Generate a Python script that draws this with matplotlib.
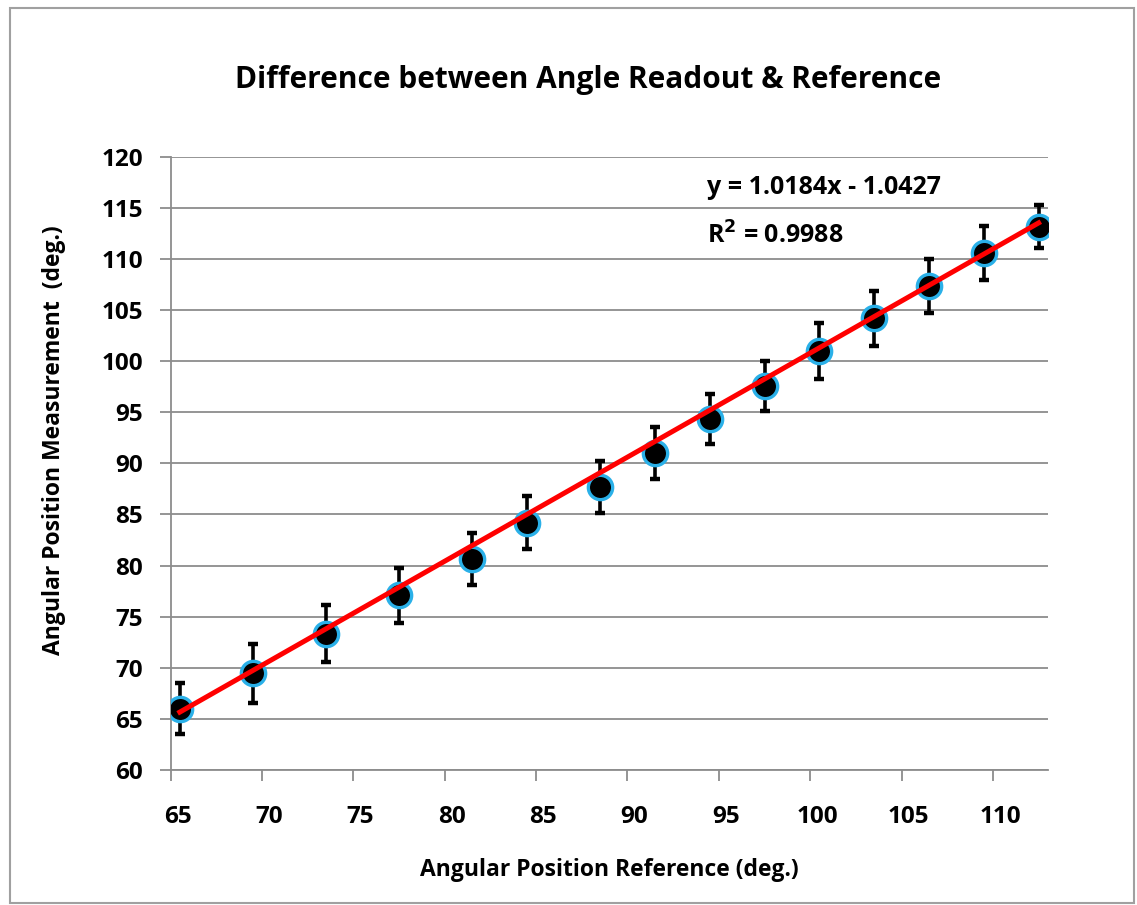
import numpy as np
import matplotlib
matplotlib.use("Agg")
import matplotlib.pyplot as plt
from matplotlib.transforms import ScaledTranslation
from matplotlib.patches import Rectangle

# reference angle (deg.) vs measured angle (deg.), with error bar half-lengths
reference = [65.5, 69.5, 73.5, 77.5, 81.5, 84.5, 88.5, 91.5, 94.5, 97.5,
             100.5, 103.5, 106.5, 109.5, 112.5]
measured = [66.0, 69.45, 73.35, 77.1, 80.65, 84.2, 87.65, 91.05, 94.3, 97.6,
            101.0, 104.2, 107.35, 110.55, 113.15]
error = [2.5, 2.9, 2.75, 2.7, 2.55, 2.6, 2.55, 2.55, 2.45, 2.45,
         2.7, 2.7, 2.6, 2.65, 2.1]

slope = 1.0184
intercept = -1.0427
r2 = 0.9988

xticks = list(range(65, 115, 5))
yticks = list(range(60, 125, 5))

plt.rcParams['font.family'] = ['Open Sans', 'DejaVu Sans']
plt.rcParams['font.weight'] = 'bold'

fig = plt.figure(figsize=(11.37, 9.05), dpi=100)
ax = fig.add_axes([0.1501, 0.1492, 0.7719, 0.6776])

grey = '#8c8c8c'

ax.errorbar(reference, measured, yerr=error, fmt='none', ecolor='black',
            elinewidth=2.6, capsize=3.8, capthick=3.2, zorder=3)
ax.plot(reference, measured, 'o', markersize=17.5, markerfacecolor='black',
        markeredgecolor='#2ab0e8', markeredgewidth=2.4, zorder=4)

xs = np.array([min(reference), max(reference)])
ax.plot(xs, slope * xs + intercept, color='red', linewidth=3.6, zorder=5)

ax.set_xlim(65, 113.03)
ax.set_ylim(60, 120)
ax.set_xticks(xticks)
ax.set_yticks(yticks)
ax.tick_params(axis='both', direction='out', length=8, width=1.3, color=grey,
               labelsize=17.5)
ax.tick_params(axis='y', pad=12)
ax.tick_params(axis='x', pad=17)

off = ScaledTranslation(7 / 100, 0, fig.dpi_scale_trans)
for lab in ax.get_xticklabels():
    lab.set_transform(lab.get_transform() + off)

ax.yaxis.grid(True, color=grey, linewidth=1.3)
ax.set_axisbelow(True)
for s in ['top', 'right']:
    ax.spines[s].set_visible(False)
for s in ['left', 'bottom']:
    ax.spines[s].set_color(grey)
    ax.spines[s].set_linewidth(1.3)

ax.set_xlabel('Angular Position Reference (deg.)', fontsize=16.5, fontweight='bold')
ax.xaxis.set_label_coords((609 - 170.7) / 877.6, -(858 - 770) / 613.3)
ax.set_ylabel('Angular Position Measurement  (deg.)', fontsize=16.5, fontweight='bold')
ax.yaxis.set_label_coords(-(170.7 - 66) / 877.6, (770 - 440) / 613.3)

fig.text(588 / 1137, 1 - 80 / 905, 'Difference between Angle Readout & Reference',
         ha='center', va='center', fontsize=21.5, fontweight='bold')

fig.text(707 / 1137, 1 - 187 / 905, 'y = %.4fx - %.4f' % (slope, -intercept),
         ha='left', va='center', fontsize=18, fontweight='bold')
fig.text(707 / 1137, 1 - 236 / 905, 'R$^2$ = %.4f' % r2,
         ha='left', va='center', fontsize=18, fontweight='bold')

fig.patches.append(Rectangle((10 / 1137, 2 / 905), 1124 / 1137, 895 / 905,
                             transform=fig.transFigure, fill=False,
                             edgecolor='#a0a0a0', linewidth=1.5))

fig.savefig('out.png', dpi=100)
